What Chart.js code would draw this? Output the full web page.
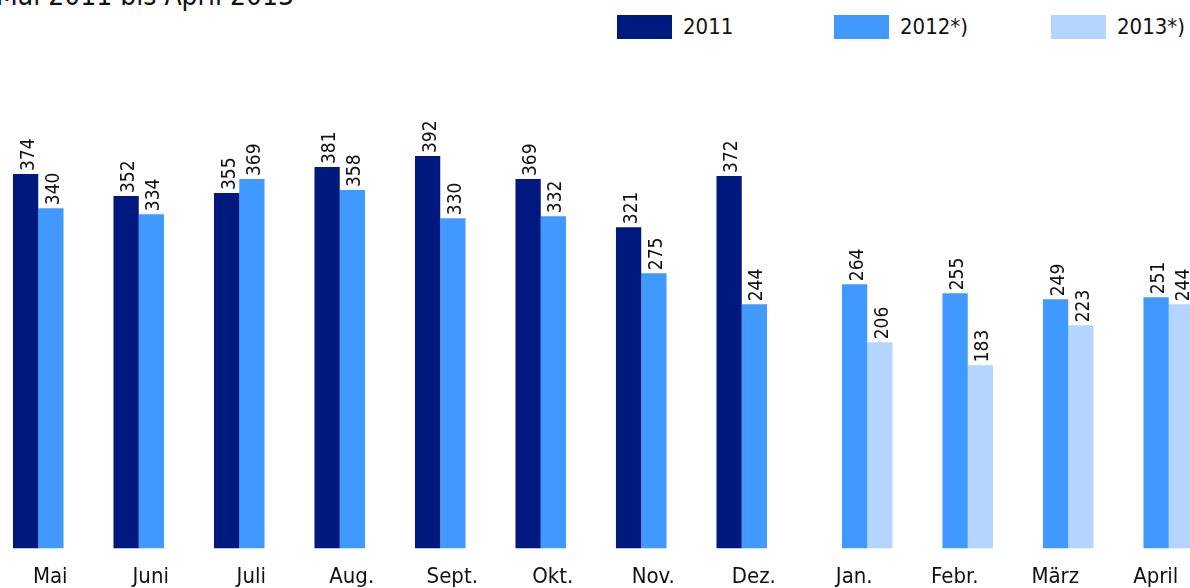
<!DOCTYPE html>
<html>
<head>
<meta charset="utf-8">
<script src="https://cdn.jsdelivr.net/npm/chart.js@4.4.1/dist/chart.umd.min.js"></script>
<style>
  html, body { margin: 0; padding: 0; background: #fff; overflow: hidden; }
  body { width: 1190px; height: 588px; position: relative; font-family: "DejaVu Sans Condensed", "DejaVu Sans", sans-serif; color: #111; }
  #title { position: absolute; left: -4px; top: -19px; font-size: 28px; line-height: 30px; white-space: nowrap; }
  #legend { position: absolute; left: 617px; top: 14px; display: flex; }
  .item { display: flex; align-items: center; width: 217px; font-size: 22px; }
  .swatch { width: 55px; height: 24px; margin-right: 11px; }
  #wrap { position: absolute; left: 0; top: 0; width: 1206px; height: 605px; }
</style>
</head>
<body>
<div id="title">Mai 2011 bis April 2013</div>
<div id="legend"></div>
<div id="wrap"><canvas id="chart"></canvas></div>
<script>
// Monate Mai 2011 bis April 2013
const months = ['Mai', 'Juni', 'Juli', 'Aug.', 'Sept.', 'Okt.', 'Nov.', 'Dez.', 'Jan.', 'Febr.', 'März', 'April'];
const values2011 = [374, 352, 355, 381, 392, 369, 321, 372, null, null, null, null];
const values2012 = [340, 334, 369, 358, 330, 332, 275, 244, 264, 255, 249, 251];
const values2013 = [null, null, null, null, null, null, null, null, 206, 183, 223, 244];
const seriesNames = ['2011', '2012*)', '2013*)'];
const seriesColors = ['#00197E', '#4099FF', '#B3D5FF'];

const FONT = '"DejaVu Sans Condensed", "DejaVu Sans", sans-serif';

// Zahlen über den Balken, um 90° gedreht
const valueLabels = {
  id: 'valueLabels',
  afterDatasetsDraw(chart) {
    const ctx = chart.ctx;
    ctx.save();
    ctx.font = '19px ' + FONT;
    ctx.fillStyle = '#111';
    ctx.textAlign = 'left';
    ctx.textBaseline = 'middle';
    chart.data.datasets.forEach((ds, di) => {
      chart.getDatasetMeta(di).data.forEach((bar, i) => {
        if (ds.data[i] == null) return;
        ctx.save();
        ctx.translate(bar.x + 3, bar.y - 3);
        ctx.rotate(-Math.PI / 2);
        ctx.fillText(String(ds.data[i]), 0, 0);
        ctx.restore();
      });
    });
    ctx.restore();
  }
};

// Balkengruppen des Jahres 2011 etwas nach links, die von 2013 etwas nach rechts
const shiftBars = {
  id: 'shiftBars',
  afterDatasetsUpdate(chart, args, opts) {
    const split = values2011.findIndex(v => v == null);
    chart.data.datasets.forEach((ds, di) => {
      chart.getDatasetMeta(di).data.forEach((bar, i) => {
        bar.x += i < split ? opts.before : opts.after;
      });
    });
  }
};

const chart = new Chart(document.getElementById('chart'), {
  type: 'bar',
  data: {
    labels: months,
    datasets: [values2011, values2012, values2013].map((d, k) => ({
      label: seriesNames[k],
      data: d,
      backgroundColor: seriesColors[k],
      borderWidth: 0,
      skipNull: true,
      categoryPercentage: 0.503,
      barPercentage: 1.0,
    })),
  },
  options: {
    responsive: true,
    maintainAspectRatio: false,
    animation: false,
    events: [],
    layout: { padding: { top: 108, left: 0, right: 0, bottom: 0 } },
    plugins: {
      legend: { display: false },
      tooltip: { enabled: false },
      shiftBars: { before: -12, after: 13 },
    },
    scales: {
      x: {
        grid: { display: false, drawTicks: false },
        border: { display: false },
        ticks: { color: '#111', font: { family: FONT, size: 22 }, padding: 15, maxRotation: 0, autoSkip: false },
      },
      y: {
        display: false,
        min: 0,
        max: 440,
      },
    },
  },
  plugins: [shiftBars, valueLabels],
});

// Legende als HTML
const legend = document.getElementById('legend');
seriesNames.forEach((name, k) => {
  const item = document.createElement('div');
  item.className = 'item';
  const sw = document.createElement('div');
  sw.className = 'swatch';
  sw.style.background = seriesColors[k];
  const txt = document.createElement('span');
  txt.textContent = name;
  item.appendChild(sw);
  item.appendChild(txt);
  legend.appendChild(item);
});
</script>
</body>
</html>
